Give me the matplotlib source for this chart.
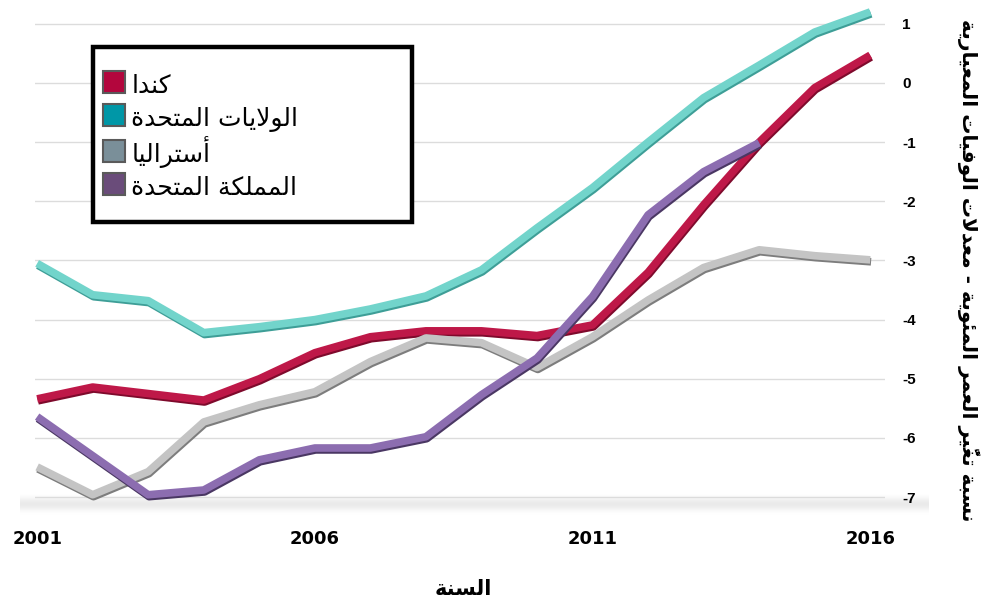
"""
Age-standardised mortality rate change, 2001-2016, four countries.
"""

import matplotlib

matplotlib.use("Agg")

import matplotlib.patheffects as pe
import matplotlib.pyplot as plt
import numpy as np
from matplotlib.lines import Line2D
from matplotlib.patches import Rectangle

years = list(range(2001, 2017))
canada = [-5.34, -5.14, -5.25, -5.36, -5.0, -4.56, -4.29, -4.19,
          -4.19, -4.27, -4.09, -3.2, -2.06, -1.0, -0.08, 0.47]
usa = [-3.05, -3.58, -3.68, -4.22, -4.12, -4.0, -3.82, -3.6,
       -3.16, -2.45, -1.77, -1.0, -0.25, 0.3, 0.86, 1.2]
australia = [-6.49, -6.96, -6.57, -5.73, -5.44, -5.22, -4.71, -4.31,
             -4.39, -4.81, -4.29, -3.67, -3.12, -2.82, -2.92, -2.99]
uk_years = list(range(2001, 2015))
uk = [-5.64, -6.3, -6.96, -6.88, -6.37, -6.17, -6.17, -5.98,
      -5.27, -4.65, -3.61, -2.23, -1.5, -1.01]

y_ticks = [1, 0, -1, -2, -3, -4, -5, -6, -7]
x_ticks = [2001, 2006, 2011, 2016]

names = ["كندا", "الولايات المتحدة", "أستراليا", "المملكة المتحدة"]
x_title = "السنة"
y_title = "نسبة تغيُّر العمر المئوية - معدلات الوفيات المعيارية"


# matplotlib has no Arabic shaping, so pick presentation forms by hand
DUAL = {"ب": 0xFE8F, "ت": 0xFE95, "ث": 0xFE99, "ج": 0xFE9D, "ح": 0xFEA1,
        "خ": 0xFEA5, "س": 0xFEB1, "ش": 0xFEB5, "ص": 0xFEB9, "ض": 0xFEBD,
        "ط": 0xFEC1, "ظ": 0xFEC5, "ع": 0xFEC9, "غ": 0xFECD, "ف": 0xFED1,
        "ق": 0xFED5, "ك": 0xFED9, "ل": 0xFEDD, "م": 0xFEE1, "ن": 0xFEE5,
        "ه": 0xFEE9, "ي": 0xFEF1, "ئ": 0xFE89}
RIGHT = {"ا": 0xFE8D, "أ": 0xFE83, "إ": 0xFE87, "آ": 0xFE81, "ة": 0xFE93,
         "د": 0xFEA9, "ذ": 0xFEAB, "ر": 0xFEAD, "ز": 0xFEAF, "و": 0xFEED,
         "ى": 0xFEEF, "ؤ": 0xFE85}
LAM_ALEF = {"ا": 0xFEFB, "أ": 0xFEF7, "إ": 0xFEF9, "آ": 0xFEF5}
MARKS = set("\u064b\u064c\u064d\u064e\u064f\u0650\u0651\u0652")


def shape(text):
    clusters = []
    i = 0
    while i < len(text):
        ch = text[i]
        if ch in MARKS and clusters:
            clusters[-1][2] += ch
        elif ch == "ل" and i + 1 < len(text) and text[i + 1] in LAM_ALEF:
            clusters.append(["lamalef", LAM_ALEF[text[i + 1]], ""])
            i += 1
        elif ch in DUAL:
            clusters.append(["dual", DUAL[ch], ""])
        elif ch in RIGHT:
            clusters.append(["right", RIGHT[ch], ""])
        else:
            clusters.append(["other", ch, ""])
        i += 1

    out = []
    for k, (kind, base, marks) in enumerate(clusters):
        if kind == "other":
            out.append(base + marks)
            continue
        prev_joins = k > 0 and clusters[k - 1][0] == "dual"
        next_joins = (kind == "dual" and k + 1 < len(clusters)
                      and clusters[k + 1][0] != "other")
        if kind == "dual":
            offset = (3 if prev_joins and next_joins else
                      1 if prev_joins else 2 if next_joins else 0)
        else:
            offset = 1 if prev_joins else 0
        out.append(chr(base + offset) + marks)
    return "".join(reversed(out))


plt.rcParams["font.family"] = ["DejaVu Sans"]

figure = plt.figure(figsize=(9.98, 6.05), dpi=100)

# faint floor under the plot
shade = 1 - 0.08 * np.sin(np.linspace(0, np.pi, 40)) ** 2
floor_rgb = np.repeat(shade[:, None, None], 3, axis=2) * np.ones((1, 2, 3))
floor = figure.add_axes([0.02, 0.148, 0.91, 0.035], zorder=0)
floor.imshow(floor_rgb, aspect="auto")
floor.axis("off")

axis = figure.add_axes([0.035, 0.149, 0.852, 0.843], zorder=1)
axis.patch.set_alpha(0)

series = [
    (years, usa, "#72D4CB", "#3E9E97"),
    (years, canada, "#BE1848", "#7E0A2C"),
    (years, australia, "#C4C4C4", "#7D7D7D"),
    (uk_years, uk, "#8C6DB0", "#4A3763"),
]
for xs, ys, color, dark in series:
    axis.plot(
        xs, ys, color=color, linewidth=5.5, solid_capstyle="butt",
        path_effects=[
            pe.SimpleLineShadow(offset=(0.6, -1.4), shadow_color=dark,
                                alpha=1.0),
            pe.Normal(),
        ],
    )

axis.set_xlim(2000.96, 2016.27)
axis.set_ylim(-7.3, 1.32)
for value in y_ticks:
    axis.axhline(value, color="#DCDCDC", linewidth=1, zorder=0)

axis.set_xticks(x_ticks)
axis.set_xticklabels([str(v) for v in x_ticks], fontweight="bold",
                     fontsize=13, family=["Liberation Sans Narrow",
                                          "DejaVu Sans"])
axis.set_yticks(y_ticks)
axis.set_yticklabels([str(v) for v in y_ticks], fontweight="bold",
                     fontsize=11, family=["Liberation Sans", "DejaVu Sans"])
axis.yaxis.tick_right()
axis.tick_params(axis="x", length=0, pad=11)
axis.tick_params(axis="y", length=0, pad=12)
for spine in axis.spines.values():
    spine.set_visible(False)

# legend box drawn separately so its padding can match the original
axis.add_patch(Rectangle(
    (0.068, 0.5745), 0.3755, 0.343, transform=axis.transAxes,
    facecolor="white", edgecolor="black", linewidth=3.2, zorder=5,
))
handles = [
    Line2D([], [], linestyle="none", marker="s", markersize=15.5,
           markerfacecolor=c, markeredgecolor="#5A5A5A",
           markeredgewidth=1.5)
    for c in ["#B3063D", "#0097A7", "#7A8F99", "#6A4C7A"]
]
legend = axis.legend(
    handles, [shape(n) for n in names],
    loc="upper left", bbox_to_anchor=(0.080, 0.871),
    borderaxespad=0, borderpad=0, fontsize=18, frameon=False,
    handlelength=0.88, handleheight=1.4, handletextpad=0.25,
    labelspacing=0.16,
)
legend.set_zorder(6)

figure.text(0.464, 0.026, shape(x_title), ha="center", va="center",
            fontsize=15, fontweight="bold")
figure.text(0.970, 0.554, shape(y_title), ha="center", va="center",
            rotation=270, fontsize=14.5, fontweight="bold")

figure.savefig("out.png", dpi=100)
